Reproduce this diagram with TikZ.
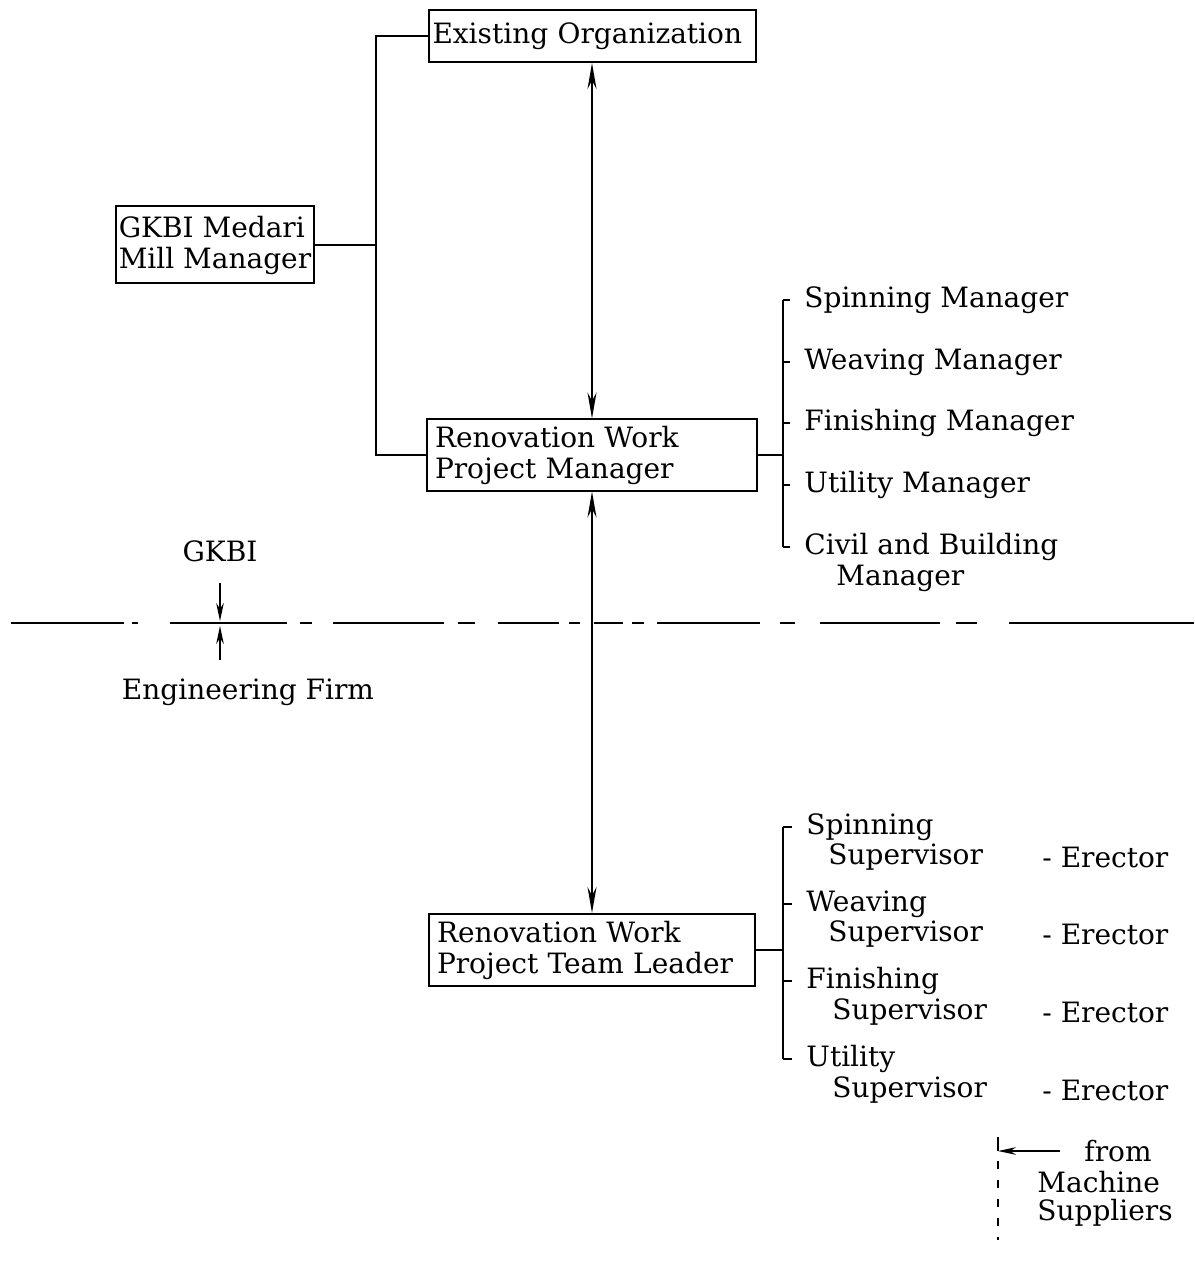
\documentclass[tikz,border=0pt]{standalone}
\usepackage{fontspec}
\setmainfont{DejaVu Serif}
\usepackage{tikz}
\usetikzlibrary{arrows.meta,positioning}

\newcommand{\chartfont}{\fontsize{14}{15.5}\selectfont}
\tikzset{
  box/.style={draw, line width=1pt, align=left, inner xsep=4pt, inner ysep=2pt, font=\chartfont},
  item/.style={anchor=west, inner xsep=7pt, inner ysep=0pt, font=\chartfont},
  tag/.style={inner sep=0pt, font=\chartfont},
  wire/.style={line width=0.8pt},
  link/.style={<->, line width=0.8pt, >={Stealth[length=13pt,width=4.5pt]}},
  pointer/.style={->, line width=0.8pt, >={Stealth[length=9pt,width=3.8pt]}}
}

\begin{document}
\begin{tikzpicture}[x=0.5pt,y=-0.5pt]
        \useasboundingbox (0,0) rectangle (1194,1272);
        % boxes
        \node[box,text width=159.5pt,inner xsep=2pt,minimum height=26pt] (exorg) at (592,36) {Existing Organization};
        \node[box,inner xsep=1.5pt,minimum width=99pt,minimum height=38.5pt] (mill) at (215,245) {GKBI Medari\\Mill Manager};
        \node[box,text width=157pt,minimum height=35.5pt]   (rwpm)  at (592,455) {Renovation Work\\Project Manager};
        \node[box,text width=155pt,minimum height=36pt]     (lead)  at (592,950) {Renovation Work\\Project Team Leader};
        % managers
        \node[item] (spinm) at (790,300)                     {Spinning Manager};
        \node[item] (weavm) [below=31pt of spinm.west,anchor=west] {Weaving Manager};
        \node[item] (finim) [below=30.5pt of weavm.west,anchor=west] {Finishing Manager};
        \node[item] (utilm) [below=31pt of finim.west,anchor=west] {Utility Manager};
        \node[item] (civil) [below=31pt of utilm.west,anchor=west] {Civil and Building};
        \node[item] (civil2) [below right=15.5pt and 16pt of civil.west,anchor=west] {Manager};
        % supervisors
        \node[item] (spins) at (792,827)                     {Spinning};
        \node[item] (weavs) [below=38.5pt of spins.west,anchor=west] {Weaving};
        \node[item] (finis) [below=38.5pt of weavs.west,anchor=west] {Finishing};
        \node[item] (utils) [below=39pt of finis.west,anchor=west] {Utility};
        \node[item] (spins2) [below right=15pt and 11pt of spins.west,anchor=west] {Supervisor};
        \node[item] (weavs2) [below right=15pt and 11pt of weavs.west,anchor=west] {Supervisor};
        \node[item] (finis2) [below right=15.5pt and 13pt of finis.west,anchor=west] {Supervisor};
        \node[item] (utils2) [below right=15.5pt and 13pt of utils.west,anchor=west] {Supervisor};
        \node[item] (spinse) [right=107pt of spins2.west,anchor=west] {- Erector};
        \node[item] (weavse) [right=107pt of weavs2.west,anchor=west] {- Erector};
        \node[item] (finise) [right=105pt of finis2.west,anchor=west] {- Erector};
        \node[item] (utilse) [right=105pt of utils2.west,anchor=west] {- Erector};
        % GKBI / engineering firm split
        \node[tag] (gkbi) at (220,551) {GKBI};
        \node[tag] (eng)  at (248,692) {Engineering Firm};
        \coordinate (cut) at (220,623);
        \foreach \a/\b in {11/124,132/138,170/287,300/312,333/444,458/475,498/559,569/580,
                           594/623,632/644,657/760,780/795,820/940,956/977,1009/1194}
          \draw[wire] (\a,623) -- (\b,623);
        \draw[pointer,shorten <=10.5pt,shorten >=1pt] (gkbi) -- (cut);
        \draw[pointer,shorten <=9pt,shorten >=1.5pt] (eng.north -| cut) -- (cut);
        % machine suppliers
        \node[tag] (from) at (1118,1151) {from};
        \node[tag,anchor=west] (mach) at (1037,1182) {Machine};
        \node[tag,anchor=west] (supl) at (1037,1213) {Suppliers};
        \coordinate (feedtop) at (998,1137);
        \coordinate (feedbot) at (998,1240);
        \draw[pointer,shorten <=12pt] (from.west) -- (from.west -| feedtop);
        \draw[wire] (feedtop) -- (from.west -| feedtop);
        \draw[wire,dash pattern=on 4pt off 5.5pt] (from.west -| feedtop) ++(0,10) -- (feedbot);
        % connections
        \coordinate (lbus) at (376,0);
        \coordinate (rbus) at (783,0);
        \draw[link] (rwpm.north) -- (exorg.south);
        \draw[link] (rwpm.south) -- (lead.north);
        \draw[wire] (exorg.west) -- (exorg.west -| lbus) -- (rwpm.west -| lbus) -- (rwpm.west);
        \draw[wire] (mill.east) -- (mill.east -| lbus);
        \draw[wire] (rwpm.east) -- (rwpm.east -| rbus);
        \draw[wire] (spinm.west -| rbus) -- (civil.west -| rbus);
        \foreach \n in {spinm,weavm,finim,utilm,civil}
          \draw[wire] (\n.west -| rbus) -- (\n.west);
        \draw[wire] (lead.east) -- (lead.east -| rbus);
        \draw[wire] (spins.west -| rbus) -- (utils.west -| rbus);
        \foreach \n in {spins,weavs,finis,utils}
          \draw[wire] (\n.west -| rbus) -- (\n.west);
\end{tikzpicture}
\end{document}
